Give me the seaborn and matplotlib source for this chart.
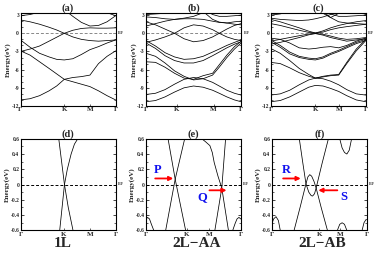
import matplotlib
matplotlib.use("Agg")
import matplotlib.pyplot as plt
from matplotlib.ticker import MultipleLocator
import seaborn as sns

sns.set_theme(style="ticks")
plt.rcParams["font.family"] = ["Liberation Serif", "DejaVu Serif"]
plt.rcParams["font.weight"] = "bold"
plt.rcParams["axes.unicode_minus"] = False
plt.rcParams["mathtext.default"] = "regular"

# ---- panel (a): 1L, wide energy window ----
a_k = [0, 0.1, 0.2, 0.3, 0.38, 0.46, 0.55, 0.64, 0.73, 0.82, 0.91, 1.0]
a_ticks = [0, 0.46, 0.73, 1.0]
a_bands = [
    [-11.0, -10.8, -10.3, -9.5, -8.7, -7.6, -7.3, -7.15, -6.9, -5.0, -3.8, -2.9],
    [-2.9, -3.6, -4.7, -5.8, -6.7, -7.6, -8.0, -8.4, -8.8, -9.5, -10.3, -11.0],
    [-1.1, -2.3, -3.3, -3.9, -4.3, -4.4, -4.2, -3.5, -2.7, -2.2, -1.6, -1.1],
    [-3.0, -2.6, -2.1, -1.3, -0.65, 0.0, -0.6, -1.0, -1.2, -1.3, -1.2, -1.1],
    [2.2, 1.9, 1.5, 1.0, 0.55, 0.0, 0.5, 0.8, 0.9, 0.85, 0.85, 0.9],
    [5.0, 5.0, 5.0, 5.0, 4.5, 3.9, 2.8, 1.8, 1.2, 1.3, 1.9, 2.9],
    [2.9, 3.1, 3.5, 4.0, 4.5, 5.0, 5.0, 5.0, 5.0, 4.2, 3.4, 2.9],
    [3.25, 3.5, 4.0, 4.5, 5.0, 5.0, 5.0, 5.0, 5.0, 4.5, 3.7, 3.25],
]

# ---- panel (b): 2L-AA ----
b_k = [0, 0.1, 0.2, 0.3, 0.4, 0.5, 0.6, 0.7, 0.77, 0.85, 0.93, 1.0]
b_ticks = [0, 0.325, 0.71, 1.0]
b_bands = [
    [-11.3, -11.1, -10.5, -9.7, -9.0, -8.7, -8.9, -9.4, -9.9, -10.5, -11.0, -11.3],
    [-10.1, -9.9, -9.3, -8.4, -7.6, -7.3, -7.5, -8.1, -8.7, -9.4, -9.9, -10.2],
    [-4.7, -4.8, -5.6, -6.6, -7.4, -7.6, -7.0, -6.6, -5.2, -3.6, -2.2, -1.3],
    [-3.3, -3.8, -4.9, -6.2, -7.1, -7.7, -7.5, -6.9, -5.6, -4.0, -2.6, -1.6],
    [-1.2, -2.1, -3.2, -3.9, -4.3, -4.2, -3.8, -3.1, -2.6, -2.0, -1.5, -1.1],
    [-1.6, -2.5, -3.7, -4.5, -4.9, -4.9, -4.5, -3.7, -3.1, -2.4, -1.8, -1.4],
    [-1.5, -1.1, -0.6, 0.0, 0.9, 1.4, 1.2, 0.6, 0.0, -0.6, -1.0, -1.2],
    [1.9, 1.4, 0.7, 0.0, -0.9, -1.4, -1.2, -0.6, 0.0, 0.7, 1.3, 1.6],
    [1.2, 1.6, 2.0, 2.3, 2.4, 2.4, 2.3, 2.0, 1.8, 1.7, 1.9, 2.0],
    [2.7, 2.6, 2.4, 2.3, 2.5, 2.8, 3.4, 4.2, 5.0, 5.0, 5.0, 5.0],
    [3.1, 3.2, 3.3, 3.4, 3.6, 4.0, 5.0, 5.0, 5.0, 5.0, 3.9, 3.2],
    [5.0, 5.0, 5.0, 5.0, 5.0, 4.5, 3.6, 2.3, 1.85, 1.7, 1.5, 1.4],
    [5.0, 5.0, 5.0, 5.0, 5.0, 5.0, 4.0, 3.1, 2.8, 2.8, 2.9, 3.0],
]

# ---- panel (c): 2L-AB ----
c_k = [0, 0.1, 0.2, 0.3, 0.4, 0.47, 0.55, 0.63, 0.715, 0.8, 0.9, 1.0]
c_ticks = [0, 0.47, 0.715, 1.0]
c_bands = [
    [-11.3, -11.1, -10.5, -9.7, -8.9, -8.6, -8.7, -9.1, -9.6, -10.3, -11.0, -11.3],
    [-10.2, -10.0, -9.4, -8.5, -7.7, -7.4, -7.5, -7.9, -8.5, -9.3, -10.0, -10.2],
    [-4.8, -5.0, -5.7, -6.5, -7.1, -7.4, -7.1, -6.9, -6.8, -4.8, -2.6, -1.0],
    [-2.5, -3.3, -4.5, -5.8, -6.8, -7.4, -7.2, -7.0, -6.9, -5.0, -2.9, -1.2],
    [-1.1, -2.0, -3.1, -3.8, -4.1, -4.2, -3.9, -3.3, -2.8, -2.2, -1.5, -1.0],
    [-1.4, -2.3, -3.4, -4.0, -4.3, -4.4, -4.1, -3.5, -3.0, -2.4, -1.7, -1.2],
    [-0.8, -1.0, -1.6, -2.4, -2.6, -2.5, -2.3, -2.2, -2.4, -2.0, -1.3, -0.8],
    [1.6, 1.3, 0.9, 0.5, 0.15, 0.05, 0.2, 0.6, 0.9, 1.1, 1.3, 1.5],
    [-1.3, -1.0, -0.7, -0.4, -0.12, -0.03, -0.15, -0.45, -0.8, -1.0, -0.9, -0.7],
    [2.3, 1.9, 1.4, 0.9, 0.35, 0.05, 0.4, 0.9, 1.3, 1.6, 1.9, 2.1],
    [-1.8, -1.5, -1.1, -0.7, -0.25, -0.05, -0.3, -0.7, -1.0, -1.3, -1.1, -0.9],
    [2.5, 2.3, 2.2, 2.1, 2.2, 2.4, 2.7, 3.1, 3.6, 5.0, 5.0, 5.0],
    [5.0, 5.0, 5.0, 5.0, 5.0, 4.5, 3.6, 2.6, 1.9, 1.7, 1.6, 1.5],
    [5.0, 5.0, 5.0, 5.0, 5.0, 5.0, 4.2, 3.2, 2.8, 2.8, 2.9, 3.0],
    [5.0, 5.0, 5.0, 5.0, 5.0, 5.0, 3.3, 2.6, 3.3, 5.0, 5.0, 5.0],
    [3.0, 3.2, 3.6, 4.2, 5.0, 5.0, 5.0, 5.0, 5.0, 5.0, 3.8, 3.1],
]

# ---- panel (d): 1L zoom near E_F, (k, E) pairs ----
d_ticks = [0, 0.45, 0.73, 1.0]
d_curves = [
    ([0.40, 0.43, 0.46, 0.50, 0.55], [0.6, 0.3, 0.0, -0.3, -0.6]),
    ([0.41, 0.435, 0.46, 0.49, 0.53, 0.565, 0.60], [-0.6, -0.3, 0.0, 0.2, 0.4, 0.53, 0.6]),
]

# ---- panel (e): 2L-AA zoom ----
e_ticks = [0, 0.43, 0.67, 1.0]
e_curves = [
    ([0.235, 0.31, 0.42], [0.6, 0.07, -0.6]),
    ([0.21, 0.31, 0.41], [-0.6, 0.07, 0.6]),
    ([0.59, 0.63, 0.675, 0.70, 0.72, 0.76, 0.80, 0.87],
     [0.6, 0.56, 0.51, 0.42, 0.29, 0.11, -0.045, -0.6]),
    ([0.727, 0.80, 0.84], [-0.6, -0.045, 0.6]),
    ([0.0, 0.02, 0.04, 0.06, 0.085], [-0.46, -0.43, -0.45, -0.52, -0.6]),
    ([0.915, 0.94, 0.96, 0.98, 1.0], [-0.6, -0.51, -0.45, -0.43, -0.45]),
]

# ---- panel (f): 2L-AB zoom ----
f_ticks = [0, 0.50, 0.72, 1.0]
f_curves = [
    ([0.235, 0.30, 0.36, 0.38, 0.40, 0.42, 0.445, 0.467, 0.52, 0.586],
     [-0.6, -0.29, 0.01, 0.1, 0.13, 0.11, 0.04, -0.045, -0.3, -0.6]),
    ([0.29, 0.325, 0.36, 0.39, 0.415, 0.43, 0.45, 0.467, 0.53, 0.596],
     [0.6, 0.3, 0.01, -0.1, -0.145, -0.15, -0.12, -0.045, 0.28, 0.6]),
    ([0.715, 0.74, 0.765, 0.79, 0.815, 0.84], [0.6, 0.48, 0.42, 0.40, 0.45, 0.6]),
    ([0.0, 0.02, 0.045, 0.07, 0.09], [-0.52, -0.45, -0.42, -0.47, -0.6]),
    ([0.69, 0.715, 0.74, 0.765, 0.79], [-0.6, -0.52, -0.5, -0.52, -0.6]),
    ([0.95, 0.97, 0.99, 1.0], [-0.6, -0.5, -0.46, -0.46]),
]

k_labels = ["Γ", "K", "M", "Γ"]
top_yticks = [3, 0, -3, -6, -9, -12]
bot_yticks = [0.6, 0.4, 0.2, 0, -0.2, -0.4, -0.6]
bot_ylabels = ["0.6", "0.4", "0.2", "0", "-0.2", "-0.4", "-0.6"]

# annotations: (label, label_xy, arrow_tail, arrow_head)
e_marks = [("P", (0.13, 0.19), (0.10, 0.08), (0.29, 0.08)),
           ("Q", (0.59, -0.16), (0.67, -0.075), (0.85, -0.075))]
f_marks = [("R", (0.15, 0.19), (0.12, 0.08), (0.305, 0.08)),
           ("S", (0.755, -0.16), (0.69, -0.075), (0.49, -0.075))]


def style_axis(ax, ticks, top):
    ax.set_xlim(0, 1)
    ax.set_xticks(ticks)
    ax.set_xticklabels(k_labels)
    if top:
        ax.set_ylim(-12, 3.3)
        ax.set_yticks(top_yticks)
        ax.set_yticklabels([str(t) for t in top_yticks])
        ax.yaxis.set_minor_locator(MultipleLocator(1))
        zc = "#888888"
    else:
        ax.set_ylim(-0.6, 0.6)
        ax.set_yticks(bot_yticks)
        ax.set_yticklabels(bot_ylabels)
        ax.yaxis.set_minor_locator(MultipleLocator(0.1))
        zc = "black"
    ax.tick_params(axis="both", which="both", direction="in", labelsize=4, pad=1)
    ax.tick_params(axis="y", which="both", right=True)
    ax.tick_params(axis="y", which="major", length=2.5, width=0.6)
    ax.tick_params(axis="y", which="minor", length=1.5, width=0.5)
    ax.tick_params(axis="x", length=1.5, width=0.5, labelsize=5, pad=1)
    ax.axhline(0, ls="--", color=zc, lw=0.7, dashes=(3, 2), zorder=1)
    ax.text(1.015, 0, r"E$_F$", transform=ax.get_yaxis_transform(),
            fontsize=3.5, va="center")
    ax.set_ylabel("Energy(eV)", fontsize=5, fontweight="bold", labelpad=0.5)
    ax.set_xlabel("")
    for s in ax.spines.values():
        s.set_linewidth(0.8)
        s.set_color("black")


def draw_bands(ax, k, bands):
    for e in bands:
        sns.lineplot(x=k, y=e, ax=ax, color="black", linewidth=0.55,
                     sort=False, estimator=None, legend=False)


def draw_curves(ax, curves):
    for k, e in curves:
        sns.lineplot(x=k, y=e, ax=ax, color="black", linewidth=0.55,
                     sort=False, estimator=None, legend=False)


def draw_marks(ax, marks):
    for lab, pos, tail, head in marks:
        ax.text(pos[0], pos[1], lab, color="#1010ee", fontsize=9,
                fontweight="bold", ha="center", va="center")
        ax.annotate("", xy=head, xytext=tail,
                    arrowprops=dict(arrowstyle="-|>", color="red", lw=1.3,
                                    mutation_scale=6, shrinkA=0, shrinkB=0))


fig = plt.figure(figsize=(3.82, 2.56), dpi=100)
w = 0.249
top_b, top_h = 0.586, 0.362
bot_b, bot_h = 0.100, 0.358

ax_a = fig.add_axes([0.0537, top_b, w, top_h])
ax_b = fig.add_axes([0.3822, top_b, w, top_h])
ax_c = fig.add_axes([0.7086, top_b, w, top_h])
ax_d = fig.add_axes([0.0542, bot_b, w, bot_h])
ax_e = fig.add_axes([0.3814, bot_b, w, bot_h])
ax_f = fig.add_axes([0.7113, bot_b, w, bot_h])

draw_bands(ax_a, a_k, a_bands)
draw_bands(ax_b, b_k, b_bands)
draw_bands(ax_c, c_k, c_bands)
draw_curves(ax_d, d_curves)
draw_curves(ax_e, e_curves)
draw_curves(ax_f, f_curves)

for ax, t in [(ax_a, a_ticks), (ax_b, b_ticks), (ax_c, c_ticks)]:
    style_axis(ax, t, True)
for ax, t in [(ax_d, d_ticks), (ax_e, e_ticks), (ax_f, f_ticks)]:
    style_axis(ax, t, False)

for ax, title in zip([ax_a, ax_b, ax_c, ax_d, ax_e, ax_f],
                     ["(a)", "(b)", "(c)", "(d)", "(e)", "(f)"]):
    ax.set_title(title, fontsize=7.5, fontweight="bold", pad=1.5)

draw_marks(ax_e, e_marks)
draw_marks(ax_f, f_marks)

for x, lab in [(0.165, "1L"), (0.515, "2L−AA"), (0.843, "2L−AB")]:
    fig.text(x, 0.05, lab, fontsize=11, fontweight="bold", ha="center", va="center")

fig.savefig("out.png", dpi=100)
